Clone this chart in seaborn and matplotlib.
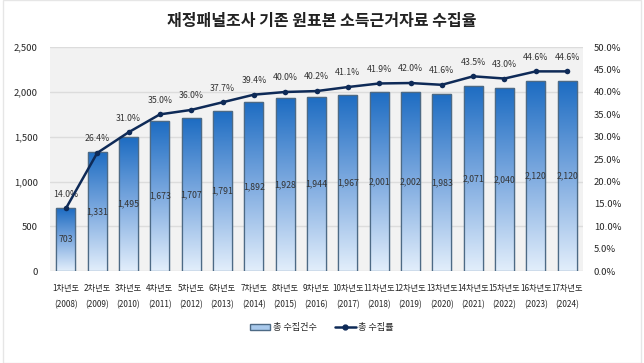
import numpy as np
import pandas as pd
import matplotlib
matplotlib.use("Agg")
import matplotlib.pyplot as plt
import seaborn as sns
from matplotlib.colors import LinearSegmentedColormap
from matplotlib.patches import Patch, Rectangle
from matplotlib.lines import Line2D
from matplotlib.ticker import FuncFormatter

# ---- datos ----
waves = [f"{i}차년도" for i in range(1, 18)]
years = list(range(2008, 2025))
counts = [703, 1331, 1495, 1673, 1707, 1791, 1892, 1928, 1944,
          1967, 2001, 2002, 1983, 2071, 2040, 2120, 2120]
rates = [14.0, 26.4, 31.0, 35.0, 36.0, 37.7, 39.4, 40.0, 40.2,
         41.1, 41.9, 42.0, 41.6, 43.5, 43.0, 44.6, 44.6]
tick_labels = [f"{w}\n({y})" for w, y in zip(waves, years)]

df = pd.DataFrame({"label": tick_labels, "count": counts, "rate": rates})

sns.set_style("white")
plt.rcParams["font.family"] = ["Noto Sans CJK KR", "DejaVu Sans"]

fig = plt.figure(figsize=(6.44, 3.63), dpi=100)
ax = fig.add_axes([0.078, 0.253, 0.827, 0.617])
ax.set_facecolor("#f2f2f2")

sns.barplot(data=df, x="label", y="count", ax=ax, width=0.6,
            color="#4f8fd6", edgecolor="#4d6a85", linewidth=0.9, zorder=2)

# degradado por barra (oscuro arriba, claro abajo)
cmap = LinearSegmentedColormap.from_list("g", ["#e2eefb", "#7fabe0", "#1d6cc2"])
grad = np.linspace(0, 1, 256).reshape(-1, 1)
for p in ax.patches:
    x0, y0 = p.get_x(), p.get_y()
    w, h = p.get_width(), p.get_height()
    im = ax.imshow(grad, cmap=cmap, aspect="auto", origin="lower",
                   extent=(x0, x0 + w, y0, y0 + h), zorder=2.5)
    im.set_clip_path(p)
    ax.add_patch(Rectangle((x0, y0), w, h, fill=False,
                           edgecolor="#4d6a85", linewidth=0.9, zorder=3))

for i, v in enumerate(counts):
    ax.text(i, v / 2, f"{v:,}", ha="center", va="center",
            fontsize=6.3, color="#333333", zorder=4)

ax.set_xlim(-0.5, len(counts) - 0.5)
ax.set_ylim(0, 2500)
ax.set_yticks(range(0, 2501, 500))
ax.yaxis.set_major_formatter(FuncFormatter(lambda v, _: f"{int(v):,}"))
ax.grid(axis="y", color="#dcdcdc", linewidth=1, zorder=0)
ax.set_axisbelow(True)
ax.set_xlabel("")
ax.set_ylabel("")
ax.tick_params(axis="x", labelsize=5.9, length=0, pad=9)
for t in ax.get_xticklabels():
    t.set_linespacing(2.0)
ax.tick_params(axis="y", labelsize=6.8, length=0, pad=9)
for s in ax.spines.values():
    s.set_visible(False)

# ---- tasa ----
ax2 = ax.twinx()
sns.lineplot(x=np.arange(len(rates)), y=rates, ax=ax2, color="#0e2a57",
             linewidth=1.8, marker="o", markersize=4, markeredgewidth=0, zorder=5)
for i, r in enumerate(rates):
    ax2.annotate(f"{r:.1f}%", (i, r), xytext=(0, 7), textcoords="offset points",
                 ha="center", va="bottom", fontsize=6.3, color="#333333")
ax2.set_ylim(0, 50)
ax2.set_yticks(np.arange(0, 50.1, 5))
ax2.yaxis.set_major_formatter(FuncFormatter(lambda v, _: f"{v:.1f}%"))
ax2.tick_params(axis="y", labelsize=6.8, length=0, pad=8)
ax2.set_ylabel("")
for s in ax2.spines.values():
    s.set_visible(False)

fig.suptitle("재정패널조사 기존 원표본 소득근거자료 수집율", fontsize=11.5,
             fontweight="bold", y=0.965, color="#222222")

handles = [Patch(facecolor="#a9c9ec", edgecolor="#4d6a85", label="총 수집건수"),
           Line2D([0], [0], color="#0e2a57", linewidth=1.8, marker="o",
                  markersize=3.5, label="총 수집률")]
fig.legend(handles=handles, loc="center", bbox_to_anchor=(0.5, 0.097), ncol=2,
           frameon=False, fontsize=6.6, handlelength=2.2, columnspacing=2.0,
           handletextpad=0.3)

fig.add_artist(Rectangle((0.004, 0.0), 0.992, 1.0, transform=fig.transFigure,
                         fill=False, edgecolor="#e6e6e6", linewidth=1))

fig.savefig("out.png", dpi=100)
